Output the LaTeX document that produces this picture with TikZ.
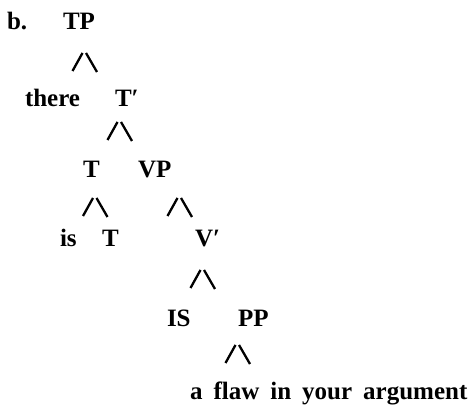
\documentclass[tikz,border=0pt]{standalone}
\usepackage{fontspec}
\setmainfont{Liberation Serif}
\begin{document}
\begin{tikzpicture}[x=1pt,y=1pt,
  lab/.style={anchor=base west,inner sep=0pt,outer sep=0pt,font=\fontsize{25}{30}\selectfont\bfseries},
  branchline/.style={line width=2.3pt,line cap=butt},
  branch/.pic={
    \draw[branchline] (-12,-18) -- (-2,0);
    \draw[branchline] (1.5,0) -- (12.5,-19);
  }]
\useasboundingbox (0,0) rectangle (473,406);
% nodes (y = 406 - pixel row of baseline)
\node[lab] (b)     at (7,376)   {b.};
\node[lab] (TP)    at (63,376)  {TP};
\node[lab] (there) at (25,299)  {there};
\node[lab] (Tbar)  at (115,299) {T′};
\node[lab] (T)     at (83,228)  {T};
\node[lab] (VP)    at (138,228) {VP};
\node[lab] (is)    at (60,159)  {is};
\node[lab] (Tlow)  at (102,159) {T};
\node[lab] (Vbar)  at (195,159) {V′};
\node[lab] (IS)    at (167,79)  {IS};
\node[lab] (PP)    at (238,79)  {PP};
\node[lab] (NP)    at (190,6)   {\spaceskip=11pt a flaw in your argument};
% branch marks
\pic at (84.5,353) {branch};
\pic at (119.5,284) {branch};
\pic at (95,208) {branch};
\pic at (179.5,208) {branch};
\pic at (202.5,136) {branch};
\pic at (237.5,61) {branch};
\end{tikzpicture}
\end{document}
